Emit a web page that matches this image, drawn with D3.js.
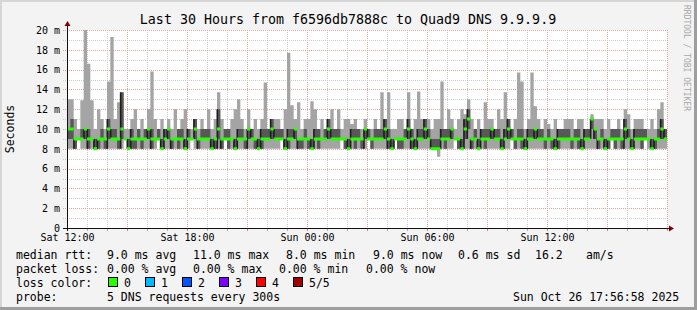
<!DOCTYPE html>
<html>
<head>
<meta charset="utf-8">
<script src="https://cdn.jsdelivr.net/npm/d3@7"></script>
<style>
  body { margin: 0; background: #f3f3f3; }
  text { font-family: "DejaVu Sans Mono", monospace; fill: #000; }
</style>
</head>
<body>
<div id="chart"></div>
<script>
// smokeping style rrd graph, 30 hours, one column every 10 minutes
var stepMinutes = 10;
var startTime = Date.UTC(2025, 9, 25, 12, 0);
var endTime = Date.UTC(2025, 9, 26, 18, 0);

// sorted pings per column (ms): lowest, 2nd, median, 4th, highest
var minRtt = [
  8,8,8,9,8,8,8,8,8,8, 8,8,8,8,8,8,8,9,8,8, 8,8,8,8,8,8,8,9,8,8,
  8,8,8,8,8,8,8,9,8,8, 8,8,8,8,8,8,8,9,8,8, 8,8,8,8,8,8,8,8,8,8,
  8,8,8,8,9,8,8,8,8,8, 8,8,8,8,8,8,8,8,8,8, 8,8,9,8,8,8,8,8,8,8,
  9,8,8,8,8,8,8,8,9,8, 8,8,8,8,8,8,8,8,8,8, 8,7.2,8,8,8,8,9,8,8,8,
  8,8,8,8,8,8,8,8,8,8, 8,8,8,9,8,8,8,8,8,8, 8,8,8,8,8,8,8,8,8,8,
  8,8,8,8,8,8,8,8,8,8, 8,8,8,9,8,8,8,8,8,8, 8,8,8,9,8,8,8,8,8,8
];
var lowRtt = [
  9,9,8,9,9,9,8,9,8,8, 9,8,9,9,9,8,9,9,8,8, 8,9,8,9,9,8,9,9,8,9,
  9,8,9,8,9,8,9,9,9,8, 9,9,9,8,8,9,8,9,8,9, 8,9,9,8,9,9,8,8,8,9,
  9,9,9,9,9,8,8,9,9,8, 8,9,8,8,9,8,9,9,9,9, 9,9,9,8,8,9,8,9,8,9,
  9,8,9,9,9,9,8,8,9,8, 8,9,9,8,8,9,9,9,9,8, 8,8,9,8,9,9,9,8,8,9,
  10,8,9,8,9,8,9,9,9,9, 8,9,9,9,8,9,8,8,9,9, 9,9,9,8,9,8,8,8,9,9,
  9,8,9,8,8,9,9,10,9,8, 9,8,8,9,8,9,8,9,9,8, 9,9,8,9,9,8,8,9,9,9
];
var medianRtt = [
  10,10,9,9,9,10,9,9,8,9, 9,9,10,9,9,9,10,9,8,9, 9,9,9,9,10,9,9,9,8,9,
  10,9,9,9,9,8,9,9,10,9, 9,9,9,8,9,10,9,9,9,9, 8,9,9,9,10,9,9,8,9,9,
  9,10,9,9,9,8,9,9,10,9, 9,9,9,8,9,9,9,9,10,9, 9,9,9,9,8,9,9,9,9,10,
  9,9,9,9,9,10,9,8,9,9, 9,9,10,9,8,9,9,10,9,8, 8,8,9,9,9,10,9,9,8,10,
  11,9,9,8,9,9,9,10,9,9, 8,9,10,9,9,9,9,8,9,9, 10,9,9,9,9,9,8,9,9,9,
  9,9,9,9,8,9,9,11,10,9, 9,8,9,9,9,9,9,10,9,8, 9,9,9,9,9,8,9,9,10,9
];
var highRtt = [
  10,11,9,9,10,10,10,9,9,9, 10,9,11,10,10,9,13.7,9,9,10, 9,10,9,10,10,10,9,10,9,10,
  10,9,9,10,10,9,10,9,11,9, 10,10,10,9,9,12,9,10,10,9, 9,10,10,9,10,10,9,9,10,10,
  10,11,10,10,10,9,10,10,10,9, 9,10,9,9,10,10,9,10,11,10, 10,10,9,9,9,10,10,10,9,10,
  10,9,10,10,10,11,10,9,9,9, 9,10,11,10,9,10,10,11,10,9, 9,9,10,10,10,10,9,9,9,11,
  12,9,10,9,10,10,10,10,10,10, 9,10,11,10,9,10,10,9,10,10, 10,10,10,9,10,9,9,10,10,10,
  10,9,10,10,9,10,10,11,10,9, 10,9,9,10,10,10,9,11,10,9, 10,10,10,10,9,9,9,10,11,10
];
var maxRtt = [
  13,13,11,10,12.9,20.2,16.6,12.9,10,12, 11,10,14.8,19.3,11,12.7,13.7,10,10,11,
  12,10,11,10,12,15.8,11,10,11,10, 11,10,12,10,11,12,10,10,11,10,
  11,10,12,10,11,13.7,11,10,10,11, 12,13,11,10,12,10,11,10,11,14.7,
  10,11,11,11,10,12,17.7,12.4,11,12.7, 10,11,11,12.8,12,10,11,10,11,12,
  10,12,10,11,11,10.5,11,10,10,11, 10,10,11,10,13.7,11,13.7,10,10,11,
  11,10,13.7,10,11,13.8,11,11,11,10, 11,11,14.8,10,12,11,10,11,12,11.5,
  13,11,10,11,10,12.7,11,11,10,12, 11,13.7,11,10,11,15.7,14.8,10,11,15.7,
  12.3,11,10,11,10.5,10,11,10,10,11, 11,11,10,11,11,10,10,11.5,11,11,
  11,10,11,10,10,11,10,12,11.5,10, 11,11,11,10,10,11,10,12,12.7,10
];

var yTicks = [0, 2, 4, 6, 8, 10, 12, 14, 16, 18, 20];
var titleText = 'Last 30 Hours from f6596db7888c to Quad9 DNS 9.9.9.9';
var rttStats = ['9.0 ms avg', '11.0 ms max', '8.0 ms min', '9.0 ms now', '0.6 ms sd', '16.2', 'am/s'];
var lossStats = ['0.00 % avg', '0.00 % max', '0.00 % min', '0.00 % now'];
var lossLabels = ['0', '1', '2', '3', '4', '5/5'];
var lossColors = ['#26ff00', '#00b8ff', '#0059ff', '#7e00ff', '#ff0000', '#a10000'];
var probeText = '5 DNS requests every 300s';
var stampText = 'Sun Oct 26 17:56:58 2025';

var W = 697, H = 310;
var plotLeft = 67, plotRight = 667, plotTop = 30, plotBottom = 228;

var svg = d3.select('#chart').append('svg')
  .attr('width', W)
  .attr('height', H);

// frame
svg.append('rect').attr('width', W).attr('height', H).attr('fill', '#f3f3f3');
svg.append('rect').attr('x', 0).attr('y', 0).attr('width', W).attr('height', 2).attr('fill', '#d6d6d6');
svg.append('rect').attr('x', 0).attr('y', 0).attr('width', 2).attr('height', H).attr('fill', '#d6d6d6');
svg.append('rect').attr('x', W - 3).attr('y', 0).attr('width', 3).attr('height', H).attr('fill', '#9e9e9e');
svg.append('rect').attr('x', 0).attr('y', H - 3).attr('width', W).attr('height', 3).attr('fill', '#9e9e9e');

svg.append('rect')
  .attr('x', plotLeft).attr('y', plotTop)
  .attr('width', plotRight - plotLeft).attr('height', plotBottom - plotTop)
  .attr('fill', '#fff');

var x = d3.scaleUtc().domain([startTime, endTime]).range([plotLeft, plotRight]);
var y = d3.scaleLinear().domain([0, 20]).range([plotBottom, plotTop]);

// grid
var grid = svg.append('g');
var hours = d3.utcHour.every(1).range(new Date(startTime), new Date(endTime + 1));
hours.forEach(function(h) {
  var major = h.getUTCHours() % 3 === 0;
  grid.append('line')
    .attr('x1', Math.round(x(h)) + 0.5).attr('x2', Math.round(x(h)) + 0.5)
    .attr('y1', plotTop).attr('y2', plotBottom + 3)
    .attr('stroke', major ? '#eba0a0' : '#cccccc')
    .attr('stroke-dasharray', '1,1');
});
d3.range(0, 21, 1).forEach(function(v) {
  var major = v % 2 === 0;
  grid.append('line')
    .attr('x1', plotLeft - 4).attr('x2', plotRight)
    .attr('y1', Math.round(y(v)) + 0.5).attr('y2', Math.round(y(v)) + 0.5)
    .attr('stroke', major ? '#eba0a0' : '#cccccc')
    .attr('stroke-dasharray', '1,1');
});

// data
var cols = medianRtt.map(function(m, i) {
  return {
    t: startTime + i * stepMinutes * 60000,
    p1: minRtt[i], p2: lowRtt[i], p3: m, p4: highRtt[i], p5: maxRtt[i]
  };
});
var last = cols[cols.length - 1];
var pts = cols.concat([Object.assign({}, last, {t: endTime})]);

svg.append('clipPath').attr('id', 'plot')
  .append('rect').attr('x', plotLeft).attr('y', plotTop)
  .attr('width', plotRight - plotLeft).attr('height', plotBottom - plotTop);

var plot = svg.append('g').attr('clip-path', 'url(#plot)');

var smoke = function(lo, hi) {
  return d3.area()
    .curve(d3.curveStepAfter)
    .x(function(d) { return x(d.t); })
    .y0(function(d) { return y(d[lo]); })
    .y1(function(d) { return y(d[hi]); });
};

plot.append('path').attr('d', smoke('p1', 'p5')(pts)).attr('fill', '#a4a4a4');
plot.append('path').attr('d', smoke('p2', 'p4')(pts)).attr('fill', '#585858');

// dark strokes where the median steps
cols.forEach(function(d, i) {
  if (i === 0 || d.p3 !== cols[i - 1].p3) {
    var lo = Math.min(d.p2, cols[Math.max(i - 1, 0)].p2);
    var hi = Math.max(d.p4, d.p3);
    plot.append('rect')
      .attr('x', x(d.t) - 0.5).attr('width', 1.6)
      .attr('y', y(hi)).attr('height', y(lo) - y(hi))
      .attr('fill', '#1c1c1c');
  }
});

// median, coloured by loss (all 0 here)
var medianBand = d3.area()
  .curve(d3.curveStepAfter)
  .x(function(d) { return x(d.t); })
  .y0(function(d) { return y(d.p3) + 1.5; })
  .y1(function(d) { return y(d.p3) - 1.5; });
plot.append('path').attr('d', medianBand(pts)).attr('fill', lossColors[0]);

// axes
hours.forEach(function(h) {
  svg.append('line')
    .attr('x1', Math.round(x(h)) + 0.5).attr('x2', Math.round(x(h)) + 0.5)
    .attr('y1', plotBottom).attr('y2', plotBottom + 3)
    .attr('stroke', h.getUTCHours() % 3 === 0 ? '#d08080' : '#aaaaaa');
});
svg.append('line')
  .attr('x1', plotLeft - 4).attr('x2', plotRight + 3)
  .attr('y1', plotBottom + 0.5).attr('y2', plotBottom + 0.5)
  .attr('stroke', '#111');
svg.append('line')
  .attr('x1', plotLeft + 0.5).attr('x2', plotLeft + 0.5)
  .attr('y1', plotBottom + 3).attr('y2', plotTop - 5)
  .attr('stroke', '#111');
svg.append('path')
  .attr('d', 'M' + (plotRight + 2) + ',' + (plotBottom - 2.5) + 'L' + (plotRight + 7) + ',' + (plotBottom + 0.5) +
    'L' + (plotRight + 2) + ',' + (plotBottom + 3.5) + 'Z')
  .attr('fill', '#7f0000');
svg.append('path')
  .attr('d', 'M' + (plotLeft - 2.5) + ',' + (plotTop - 4) + 'L' + (plotLeft + 0.5) + ',' + (plotTop - 9) +
    'L' + (plotLeft + 3.5) + ',' + (plotTop - 4) + 'Z')
  .attr('fill', '#7f0000');

var yaxis = svg.append('g')
  .attr('transform', 'translate(' + (plotLeft - 7) + ',0)')
  .call(d3.axisLeft(y).tickValues(yTicks).tickSize(0)
    .tickFormat(function(v) { return v === 0 ? '0' : v + ' m'; }));
yaxis.select('.domain').remove();
yaxis.selectAll('text').attr('x', 0).attr('font-size', '10px')
  .style('font-family', '"DejaVu Sans Mono", monospace');

var fmt = d3.utcFormat('%a %H:%M');
var labelTimes = d3.utcHour.every(6).range(new Date(startTime), new Date(endTime));
var xaxis = svg.append('g')
  .attr('transform', 'translate(0,' + (plotBottom + 6) + ')')
  .call(d3.axisBottom(x).tickValues(labelTimes).tickSize(0).tickFormat(fmt));
xaxis.select('.domain').remove();
xaxis.selectAll('text').attr('y', 0).attr('dy', '0.71em').attr('font-size', '10px')
  .style('font-family', '"DejaVu Sans Mono", monospace');

// titles
svg.append('text')
  .attr('x', 348).attr('y', 23.5)
  .attr('text-anchor', 'middle')
  .attr('font-size', '13.3px')
  .text(titleText);

svg.append('text')
  .attr('transform', 'translate(14,' + ((plotTop + plotBottom) / 2) + ') rotate(-90)')
  .attr('text-anchor', 'middle')
  .attr('font-size', '11.5px')
  .text('Seconds');

svg.append('text')
  .attr('transform', 'translate(684,5) rotate(90)')
  .attr('font-size', '8px')
  .style('fill', '#a8a8a8')
  .text('RRDTOOL / TOBI OETIKER');

// legend
var legend = svg.append('g').attr('font-size', '11.5px');
var put = function(px, py, str) {
  legend.append('text').attr('x', px).attr('y', py).attr('xml:space', 'preserve').text(str);
};

put(16, 258.5, 'median rtt:');
[107, 193, 286, 373, 458, 535, 586].forEach(function(px, i) { put(px, 258.5, rttStats[i]); });

put(16, 272.5, 'packet loss:');
[107, 193, 279, 366].forEach(function(px, i) { put(px, 272.5, lossStats[i]); });

put(16, 286.5, 'loss color:');
lossLabels.forEach(function(lbl, i) {
  var bx = 108 + i * 37;
  legend.append('rect')
    .attr('x', bx + 0.5).attr('y', 277.5)
    .attr('width', 9).attr('height', 9)
    .attr('fill', lossColors[i])
    .attr('stroke', '#000');
  put(bx + 16, 286.5, lbl);
});

put(16, 300.5, 'probe:');
put(107, 300.5, probeText);
put(513, 300.5, stampText);
</script>
</body>
</html>
